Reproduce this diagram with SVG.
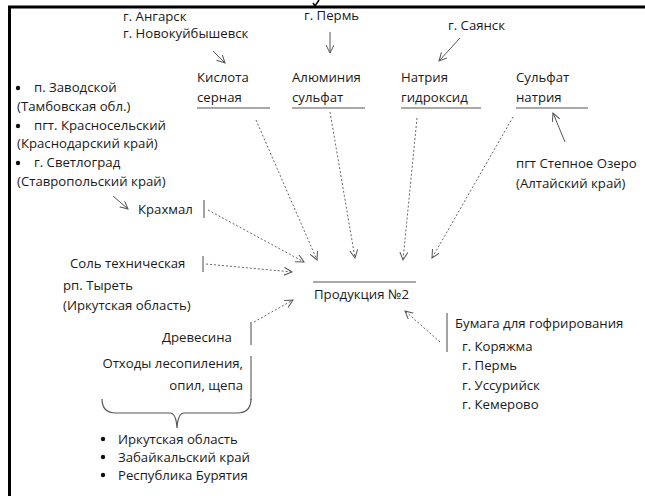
<svg xmlns="http://www.w3.org/2000/svg" width="645" height="496" viewBox="0 0 645 496">
<defs>
<marker id="ah" markerWidth="10" markerHeight="10" refX="8" refY="4" orient="auto" markerUnits="userSpaceOnUse">
<path d="M0,0 L8,4 L0,8" fill="none" stroke="#555" stroke-width="1"/>
</marker>
</defs>
<style>
text{font-family:"Open Sans","Liberation Sans",sans-serif;font-size:13.2px;fill:#1a1a1a}
.bar{stroke:#666;stroke-width:1.2}
.ul{stroke:#555;stroke-width:1.2}
.solid{stroke:#555;stroke-width:1;fill:none;marker-end:url(#ah)}
.dash{stroke:#666;stroke-width:1;fill:none;stroke-dasharray:2,2;marker-end:url(#ah)}
.dot{fill:#111}
</style>
<rect width="645" height="496" fill="#fff"/>
<g id="frame">
<line x1="8" y1="7" x2="645" y2="7" stroke="#000" stroke-width="3"/>
<line x1="9.5" y1="6" x2="9.5" y2="496" stroke="#000" stroke-width="3"/>
<path d="M313,3 L315,6 L319,0" fill="none" stroke="#000" stroke-width="1.5"/>
</g>
<g id="connectors">
<line class="solid" x1="213" y1="51" x2="225" y2="63"/>
<line class="solid" x1="330" y1="32" x2="330" y2="53"/>
<line class="solid" x1="460" y1="38" x2="439" y2="61"/>
<line class="solid" x1="565" y1="142" x2="553" y2="113"/>
<line class="solid" x1="113" y1="196" x2="128" y2="209"/>
<line class="dash" x1="256" y1="120" x2="317" y2="260"/>
<line class="dash" x1="330" y1="112" x2="355" y2="258"/>
<line class="dash" x1="417" y1="118" x2="403" y2="260"/>
<line class="dash" x1="513" y1="117" x2="432" y2="258"/>
<line class="dash" x1="208" y1="210" x2="304" y2="262"/>
<line class="dash" x1="206" y1="264" x2="292" y2="272"/>
<line class="dash" x1="254" y1="322" x2="293" y2="300"/>
<line class="dash" x1="440" y1="342" x2="405" y2="311"/>
</g>
<g id="src-angarsk">
<text x="123" y="21">г. Ангарск</text>
<text x="123" y="38">г. Новокуйбышевск</text>
</g>
<g id="src-perm"><text x="304" y="20">г. Пермь</text></g>
<g id="src-sayansk"><text x="448" y="30">г. Саянск</text></g>
<g id="n-kislota">
<text x="197" y="82">Кислота</text>
<text x="197" y="102">серная</text>
<line class="ul" x1="197" y1="108" x2="270" y2="108"/>
</g>
<g id="n-alum">
<text x="292" y="82">Алюминия</text>
<text x="292" y="102">сульфат</text>
<line class="ul" x1="292" y1="108" x2="365" y2="108"/>
</g>
<g id="n-natr">
<text x="401" y="82">Натрия</text>
<text x="401" y="102">гидроксид</text>
<line class="ul" x1="401" y1="108" x2="481" y2="108"/>
</g>
<g id="n-sulf">
<text x="516" y="82">Сульфат</text>
<text x="516" y="102">натрия</text>
<line class="ul" x1="516" y1="108" x2="588" y2="108"/>
</g>
<g id="src-stepnoe">
<text x="516" y="168">пгт Степное Озеро</text>
<text x="516" y="188">(Алтайский край)</text>
</g>
<g id="src-krahmal">
<circle class="dot" cx="18" cy="88" r="2.2"/>
<text x="34" y="92">п. Заводской</text>
<text x="17" y="111">(Тамбовская обл.)</text>
<circle class="dot" cx="18" cy="126" r="2.2"/>
<text x="34" y="130">пгт. Красносельский</text>
<text x="17" y="148">(Краснодарский край)</text>
<circle class="dot" cx="18" cy="163" r="2.2"/>
<text x="34" y="167">г. Светлоград</text>
<text x="17" y="186">(Ставропольский край)</text>
</g>
<g id="n-krahmal">
<text x="138" y="214">Крахмал</text>
<line class="bar" x1="204" y1="200" x2="204" y2="218"/>
</g>
<g id="n-sol">
<text x="70" y="268">Соль техническая</text>
<line class="bar" x1="203" y1="256" x2="203" y2="272"/>
</g>
<g id="src-tyret">
<text x="63" y="290">рп. Тыреть</text>
<text x="63" y="310">(Иркутская область)</text>
</g>
<g id="n-drev">
<text x="162" y="342">Древесина</text>
<line class="bar" x1="251" y1="322" x2="251" y2="345"/>
</g>
<g id="n-othody">
<text x="243" y="368" text-anchor="end">Отходы лесопиления,</text>
<text x="243" y="390" text-anchor="end">опил, щепа</text>
<line class="bar" x1="251" y1="356" x2="251" y2="400"/>
<path d="M102,399 Q102,413 116,413 L170,413 Q176,413 177,428 Q178,413 184,413 L237,413 Q251,413 251,399" fill="none" stroke="#555" stroke-width="1.2"/>
</g>
<g id="src-irk">
<circle class="dot" cx="103" cy="439" r="2.2"/>
<text x="118" y="444">Иркутская область</text>
<circle class="dot" cx="103" cy="457" r="2.2"/>
<text x="118" y="462">Забайкальский край</text>
<circle class="dot" cx="103" cy="475" r="2.2"/>
<text x="118" y="480">Республика Бурятия</text>
</g>
<g id="n-product">
<line class="ul" x1="313" y1="282" x2="416" y2="282"/>
<text x="314" y="299">Продукция №2</text>
</g>
<g id="n-bumaga">
<line class="bar" x1="447" y1="313" x2="447" y2="352"/>
<text x="455" y="328">Бумага для гофрирования</text>
<text x="462" y="351">г. Коряжма</text>
<text x="462" y="370">г. Пермь</text>
<text x="462" y="390">г. Уссурийск</text>
<text x="462" y="409">г. Кемерово</text>
</g>
</svg>
